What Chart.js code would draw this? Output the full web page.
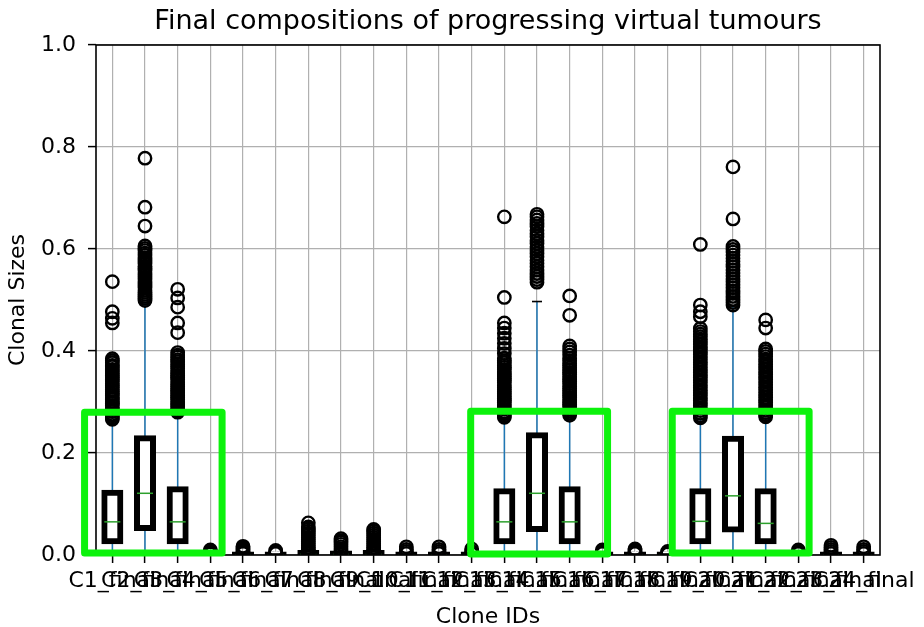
<!DOCTYPE html>
<html>
<head>
<meta charset="utf-8">
<script src="https://cdn.jsdelivr.net/npm/chart.js@4/dist/chart.umd.min.js"></script>
<style>
  html, body { margin: 0; padding: 0; background: #ffffff; }
  #wrap { width: 924px; height: 627px; }
</style>
</head>
<body>
<div id="wrap"><canvas id="chart" width="924" height="627"></canvas></div>
<script>
// Clone identifiers on the x axis
const categories = ['C1_final', 'C2_final', 'C3_final', 'C4_final', 'C5_final', 'C6_final',
  'C7_final', 'C8_final', 'C9_final', 'C10_final', 'C11_final', 'C12_final',
  'C13_final', 'C14_final', 'C15_final', 'C16_final', 'C17_final', 'C18_final',
  'C19_final', 'C20_final', 'C21_final', 'C22_final', 'C23_final', 'C24_final'];

// Box statistics per clone (final clonal size fraction)
const q1 =          [0.027, 0.053, 0.027, 0, 0, 0, 0, 0, 0, 0, 0, 0, 0.027, 0.051, 0.027, 0, 0, 0, 0.027, 0.050, 0.027, 0, 0, 0];
const medians =     [0.065, 0.121, 0.065, 0, 0, 0, 0.001, 0.001, 0.001, 0, 0, 0, 0.065, 0.121, 0.065, 0, 0, 0, 0.066, 0.116, 0.062, 0, 0, 0];
const q3 =          [0.122, 0.229, 0.129, 0.001, 0.001, 0.001, 0.004, 0.003, 0.004, 0.001, 0.001, 0.001, 0.125, 0.235, 0.129, 0.001, 0.001, 0.001, 0.125, 0.228, 0.125, 0.001, 0.001, 0.001];
const whiskerLow =  [0, 0, 0, 0, 0, 0, 0, 0, 0, 0, 0, 0, 0, 0, 0, 0, 0, 0, 0, 0, 0, 0, 0, 0];
const whiskerHigh = [0.262, 0.495, 0.277, 0.002, 0.002, 0.002, 0.009, 0.007, 0.009, 0.002, 0.002, 0.002, 0.268, 0.497, 0.270, 0.002, 0.002, 0.002, 0.266, 0.488, 0.268, 0.002, 0.002, 0.002];

// Outlying tumours per clone
const fliers = [
  [0.536, 0.477, 0.464, 0.455, 0.385, 0.381, 0.377, 0.372, 0.369, 0.364, 0.361, 0.357, 0.352, 0.349, 0.344, 0.341, 0.336, 0.333, 0.329, 0.324, 0.321, 0.316, 0.313, 0.308, 0.305, 0.300, 0.297, 0.293, 0.288, 0.285, 0.281, 0.276, 0.273, 0.269, 0.266],
  [0.778, 0.682, 0.645, 0.606, 0.601, 0.597, 0.592, 0.588, 0.583, 0.579, 0.575, 0.571, 0.566, 0.562, 0.558, 0.553, 0.549, 0.545, 0.541, 0.536, 0.532, 0.528, 0.524, 0.519, 0.515, 0.511, 0.507, 0.503, 0.499],
  [0.521, 0.504, 0.486, 0.455, 0.436, 0.397, 0.392, 0.388, 0.383, 0.379, 0.374, 0.370, 0.366, 0.361, 0.357, 0.352, 0.348, 0.344, 0.339, 0.335, 0.331, 0.326, 0.322, 0.318, 0.313, 0.309, 0.305, 0.300, 0.296, 0.292, 0.287, 0.283, 0.280],
  [0.002, 0.004, 0.007, 0.010],
  [0.003, 0.006, 0.009, 0.012, 0.015, 0.017],
  [0.003, 0.006, 0.009],
  [0.003, 0.007, 0.011, 0.015, 0.019, 0.023, 0.027, 0.031, 0.035, 0.039, 0.043, 0.047, 0.051, 0.055, 0.063],
  [0.004, 0.008, 0.012, 0.016, 0.021, 0.025, 0.028, 0.032],
  [0.003, 0.007, 0.011, 0.015, 0.019, 0.023, 0.027, 0.031, 0.035, 0.039, 0.043, 0.047, 0.050],
  [0.003, 0.007, 0.011, 0.016],
  [0.003, 0.007, 0.011, 0.016],
  [0.003, 0.007, 0.012],
  [0.663, 0.505, 0.455, 0.445, 0.435, 0.425, 0.415, 0.405, 0.395, 0.386, 0.381, 0.377, 0.372, 0.368, 0.364, 0.359, 0.355, 0.351, 0.346, 0.342, 0.338, 0.333, 0.329, 0.325, 0.320, 0.316, 0.312, 0.307, 0.303, 0.299, 0.294, 0.290, 0.286, 0.281, 0.277, 0.273, 0.270],
  [0.668, 0.663, 0.657, 0.650, 0.644, 0.637, 0.630, 0.624, 0.617, 0.611, 0.604, 0.598, 0.591, 0.585, 0.578, 0.572, 0.565, 0.559, 0.552, 0.546, 0.540, 0.535],
  [0.508, 0.470, 0.410, 0.404, 0.398, 0.392, 0.386, 0.381, 0.376, 0.372, 0.367, 0.363, 0.358, 0.354, 0.349, 0.345, 0.340, 0.336, 0.331, 0.327, 0.322, 0.318, 0.313, 0.309, 0.304, 0.300, 0.295, 0.291, 0.286, 0.282, 0.278, 0.274],
  [0.003, 0.006, 0.010],
  [0.003, 0.006, 0.009, 0.012],
  [0.002, 0.005, 0.007],
  [0.609, 0.490, 0.477, 0.467, 0.444, 0.438, 0.433, 0.428, 0.423, 0.418, 0.413, 0.408, 0.403, 0.398, 0.393, 0.388, 0.383, 0.378, 0.373, 0.368, 0.363, 0.358, 0.353, 0.348, 0.343, 0.338, 0.333, 0.328, 0.323, 0.318, 0.313, 0.308, 0.303, 0.298, 0.293, 0.288, 0.283, 0.278, 0.273, 0.269],
  [0.761, 0.659, 0.605, 0.599, 0.594, 0.588, 0.582, 0.576, 0.570, 0.565, 0.559, 0.553, 0.547, 0.541, 0.536, 0.530, 0.524, 0.518, 0.513, 0.507, 0.501, 0.495, 0.490],
  [0.461, 0.445, 0.404, 0.399, 0.394, 0.389, 0.384, 0.379, 0.374, 0.369, 0.364, 0.359, 0.354, 0.349, 0.344, 0.339, 0.334, 0.329, 0.324, 0.319, 0.314, 0.309, 0.304, 0.299, 0.294, 0.289, 0.284, 0.279, 0.275, 0.271],
  [0.003, 0.006, 0.010],
  [0.003, 0.007, 0.011, 0.015, 0.019],
  [0.003, 0.007, 0.011, 0.016]
];

// Y axis tick values
const yTicks = [0.0, 0.2, 0.4, 0.6, 0.8, 1.0];

// Highlighted clone groups (x in category index units, y in clonal size)
const highlightFrom = [-0.85, 10.97, 17.14];
const highlightTo   = [3.36, 15.16, 21.33];
const highlightTop  = [0.280, 0.282, 0.282];
const highlightBottom = [0.004, 0.002, 0.004];

const FONT = 'DejaVu Sans';

const flierPoints = [];
fliers.forEach((vals, i) => vals.forEach(v => flierPoints.push({ x: categories[i], y: v })));

// Axes frame and highlight rectangles
const framePlugin = {
  id: 'frame',
  afterDraw(chart) {
    const { ctx, chartArea: a, scales: { x, y } } = chart;
    ctx.save();
    ctx.strokeStyle = '#000000';
    ctx.lineWidth = 1.6;
    ctx.strokeRect(a.left, a.top, a.right - a.left, a.bottom - a.top);
    ctx.strokeStyle = '#0cf20c';
    ctx.lineWidth = 7;
    ctx.lineJoin = 'round';
    for (let k = 0; k < highlightFrom.length; k++) {
      const x0 = x.getPixelForValue(highlightFrom[k]);
      const x1 = x.getPixelForValue(highlightTo[k]);
      const y0 = y.getPixelForValue(highlightTop[k]);
      const y1 = y.getPixelForValue(highlightBottom[k]);
      ctx.strokeRect(x0, y0, x1 - x0, y1 - y0);
    }
    ctx.restore();
  }
};

new Chart(document.getElementById('chart'), {
  type: 'bar',
  data: {
    labels: categories,
    datasets: [
      {
        type: 'line',
        label: 'fliers',
        data: flierPoints,
        showLine: false,
        pointStyle: 'circle',
        pointRadius: 6.2,
        pointBorderWidth: 2.4,
        pointBorderColor: '#000000',
        pointBackgroundColor: 'rgba(0,0,0,0)',
        clip: 0,
        order: 1
      },
      {
        type: 'line',
        label: 'caps high',
        data: whiskerHigh,
        showLine: false,
        pointStyle: 'line',
        pointRadius: 5,
        pointBorderWidth: 1.6,
        pointBorderColor: '#000000',
        clip: 0,
        order: 2
      },
      {
        type: 'line',
        label: 'caps low',
        data: whiskerLow,
        showLine: false,
        pointStyle: 'line',
        pointRadius: 5,
        pointBorderWidth: 1.6,
        pointBorderColor: '#000000',
        clip: 0,
        order: 2
      },
      {
        type: 'line',
        label: 'medians',
        data: medians,
        showLine: false,
        pointStyle: 'line',
        pointRadius: 8,
        pointBorderWidth: 1.5,
        pointBorderColor: '#2ca02c',
        clip: 0,
        order: 3
      },
      {
        label: 'boxes',
        data: categories.map((_, i) => [q1[i], q3[i]]),
        backgroundColor: '#ffffff',
        borderColor: '#000000',
        borderWidth: 6,
        borderSkipped: false,
        inflateAmount: 3,
        barThickness: 16,
        grouped: false,
        clip: 0,
        order: 4
      },
      {
        label: 'whiskers',
        data: categories.map((_, i) => [whiskerLow[i], whiskerHigh[i]]),
        backgroundColor: '#1f77b4',
        borderWidth: 0,
        inflateAmount: 0,
        barThickness: 1.5,
        grouped: false,
        clip: 0,
        order: 5
      }
    ]
  },
  options: {
    responsive: false,
    animation: false,
    devicePixelRatio: 1,
    events: [],
    layout: { padding: { top: 0, right: 44, bottom: 0, left: 0 } },
    plugins: {
      legend: { display: false },
      tooltip: { enabled: false },
      title: {
        display: true,
        text: 'Final compositions of progressing virtual tumours',
        fullSize: false,
        color: '#000000',
        font: { family: FONT, size: 27, weight: 'normal', lineHeight: 1.2 },
        padding: { top: 6, bottom: 6.6 }
      }
    },
    scales: {
      x: {
        type: 'category',
        offset: true,
        grid: { offset: false, color: '#b0b0b0', lineWidth: 1.2, drawTicks: true, tickLength: 8, tickColor: '#000000', tickWidth: 1.5 },
        border: { display: false },
        ticks: {
          autoSkip: false, maxRotation: 0, minRotation: 0, padding: 5,
          color: '#000000', font: { family: FONT, size: 22, lineHeight: 1.2 }
        },
        title: {
          display: true, text: 'Clone IDs', color: '#000000',
          font: { family: FONT, size: 22, lineHeight: 1.0 },
          padding: { top: 0, bottom: -1 }
        },
        afterFit(scale) { scale.height = 72; }
      },
      y: {
        min: 0,
        max: 1,
        grid: { color: '#b0b0b0', lineWidth: 1.2, drawTicks: true, tickLength: 8, tickColor: '#000000', tickWidth: 1.5 },
        border: { display: false },
        afterBuildTicks(scale) { scale.ticks = yTicks.map(v => ({ value: v })); },
        ticks: {
          padding: 12, color: '#000000',
          font: { family: FONT, size: 22, lineHeight: 1.2 },
          callback: (v) => Number(v).toFixed(1)
        },
        title: {
          display: true, text: 'Clonal Sizes', color: '#000000',
          font: { family: FONT, size: 22, lineHeight: 1.2 },
          padding: { top: 5, bottom: 0 }
        },
        afterFit(scale) { scale.width = 96; }
      }
    }
  },
  plugins: [framePlugin]
});
</script>
</body>
</html>
